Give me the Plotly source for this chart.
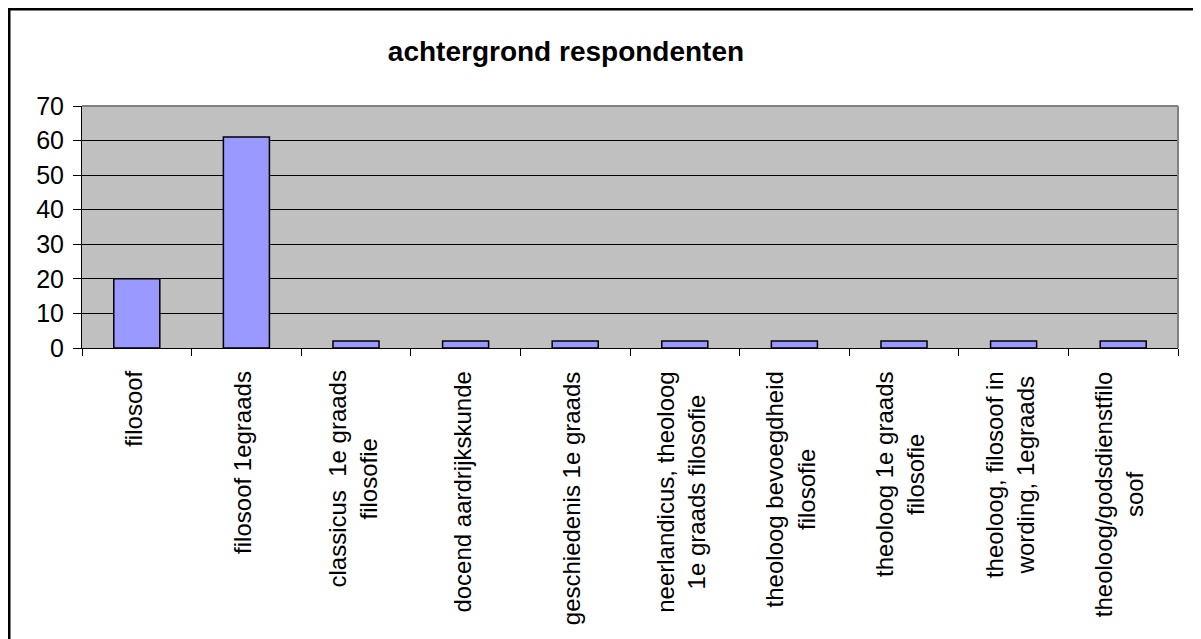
import plotly.graph_objects as go

categories = [
    "filosoof",
    "filosoof 1egraads",
    "classicus  1e graads<br>filosofie",
    "docend aardrijkskunde",
    "geschiedenis 1e graads",
    "neerlandicus, theoloog<br>1e graads filosofie",
    "theoloog bevoegdheid<br>filosofie",
    "theoloog 1e graads<br>filosofie",
    "theoloog, filosoof in<br>wording, 1egraads",
    "theoloog/godsdienstfilo<br>soof",
]
values = [20, 61, 2, 2, 2, 2, 2, 2, 2, 2]
y_ticks = [0, 10, 20, 30, 40, 50, 60, 70]
title_text = "achtergrond respondenten"

FONT = "Arial, 'Liberation Sans', sans-serif"
keys = [f"c{i}" for i in range(len(categories))]

# page is offset by the default 8px body margin
OFF = 8
W, H = 1201 - OFF, 639 - OFF
L, R, T, B = 82 - OFF, 1201 - 1178, 106 - OFF, 639 - 348
PW, PH = 1178 - 82, 348 - 106

fig = go.Figure(
    go.Bar(
        x=keys,
        y=values,
        marker=dict(color="#9999FF", line=dict(color="black", width=1.5)),
        width=0.42,
    )
)

for k, lab in zip(keys, categories):
    fig.add_annotation(
        x=k, xref="x", y=0, yref="paper", yanchor="top", xanchor="center",
        yshift=-21, xshift=-4, text=lab, textangle=-90, showarrow=False, align="center",
        font=dict(family=FONT, size=24, color="black"),
    )

fig.update_layout(
    width=W, height=H,
    margin=dict(l=L, r=R, t=T, b=B),
    paper_bgcolor="white",
    plot_bgcolor="#C0C0C0",
    showlegend=False,
    title=dict(text=f"<b>{title_text}</b>", x=(566 - OFF) / W, xref="container", xanchor="center",
               y=1 - (51 - OFF) / H, yref="container", yanchor="middle",
               font=dict(family=FONT, size=28, color="black")),
    xaxis=dict(type="category", tickson="boundaries", ticks="outside", ticklen=7,
               tickcolor="black", showticklabels=False, showline=True, linecolor="black",
               linewidth=1, showgrid=False),
    yaxis=dict(range=[0, 70], tickvals=y_ticks, ticks="outside", ticklen=8, tickcolor="black",
               showline=True, linecolor="black", linewidth=1, showgrid=True,
               gridcolor="black", gridwidth=1, zeroline=False, ticklabelstandoff=4,
               tickfont=dict(family=FONT, size=25, color="black")),
)

# plot-area border (top/right in grey)
fig.add_shape(type="line", xref="paper", yref="paper", x0=0, x1=1, y0=1, y1=1,
              line=dict(color="#808080", width=2))
fig.add_shape(type="line", xref="paper", yref="paper", x0=1, x1=1, y0=0, y1=1,
              line=dict(color="#808080", width=2))
# outer chart border
fig.add_shape(type="rect", xref="paper", yref="paper",
              x0=(9 - 82) / PW, x1=(1195 - 82) / PW,
              y0=(348 - 660) / PH, y1=(348 - 9) / PH,
              line=dict(color="black", width=3), layer="above")

fig.write_html("out.html")
